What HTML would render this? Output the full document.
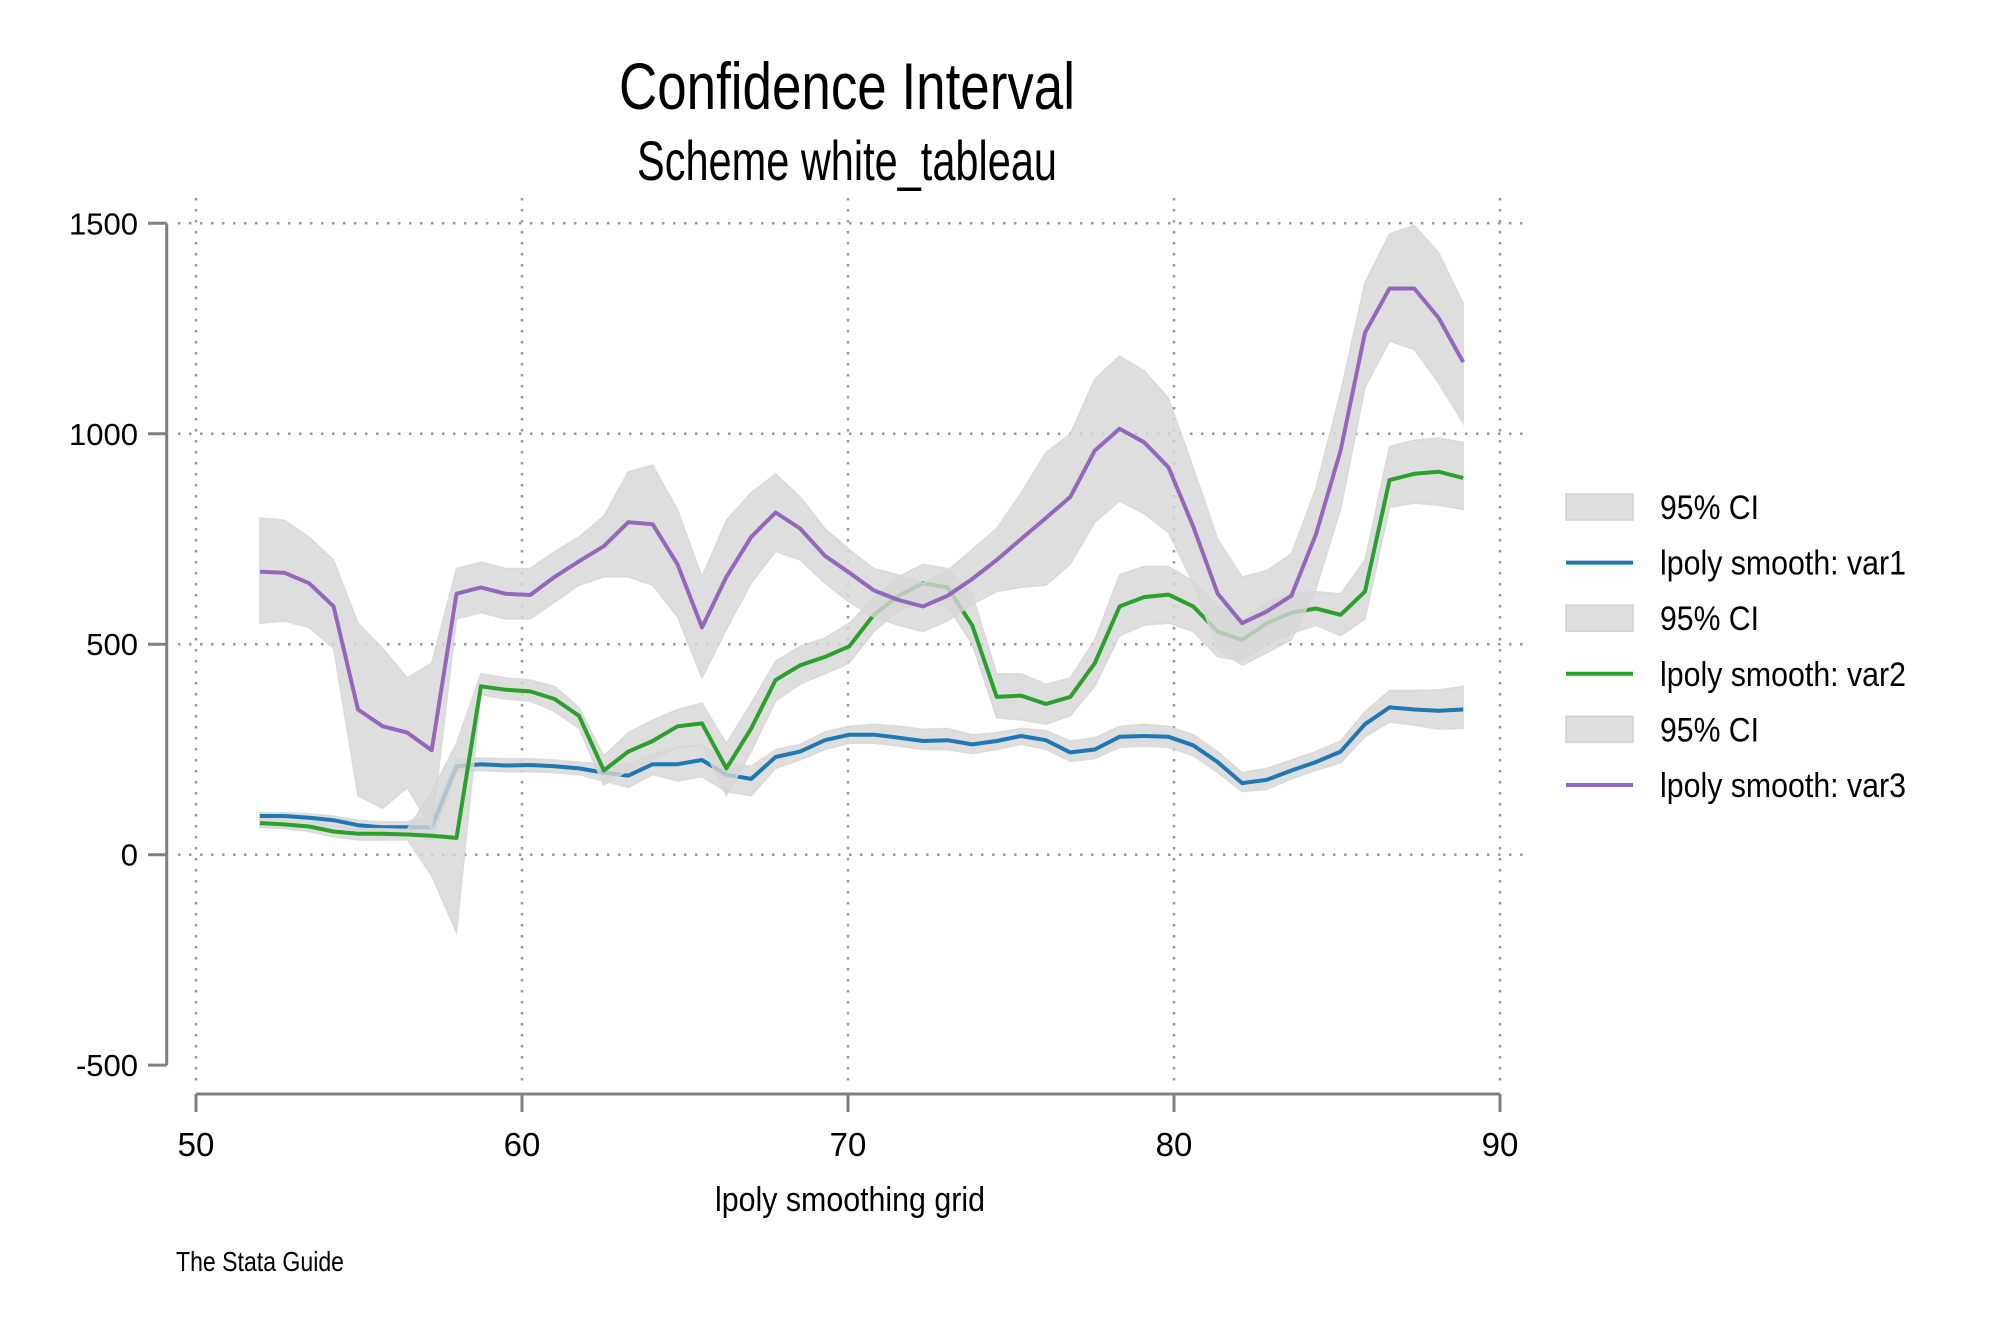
<!DOCTYPE html>
<html><head><meta charset="utf-8"><style>
html,body{margin:0;padding:0;background:#fff;}
svg{display:block;font-family:"Liberation Sans Narrow","Liberation Sans",sans-serif;}
</style></head><body>
<svg id="chart" width="2000" height="1333" viewBox="0 0 2000 1333" xmlns="http://www.w3.org/2000/svg">
<rect width="2000" height="1333" fill="#fff"/>
<text x="847" y="109" font-size="66" text-anchor="middle" textLength="456" lengthAdjust="spacingAndGlyphs">Confidence Interval</text>
<text x="847" y="180" font-size="56" text-anchor="middle" textLength="420" lengthAdjust="spacingAndGlyphs">Scheme white_tableau</text>
<g id="grid"></g>
<g id="bands"></g>
<g id="axes"></g>
<g id="legend"></g>
<text x="850" y="1211" font-size="34" text-anchor="middle" textLength="270" lengthAdjust="spacingAndGlyphs">lpoly smoothing grid</text>
<text x="176" y="1271" font-size="28" textLength="168" lengthAdjust="spacingAndGlyphs">The Stata Guide</text>
</svg>
<script>
const xGrid = [51.96,52.71,53.47,54.22,54.97,55.73,56.48,57.23,57.99,58.74,59.49,60.25,61.00,61.75,62.51,63.26,64.01,64.77,65.52,66.27,67.03,67.78,68.53,69.29,70.04,70.79,71.55,72.30,73.05,73.81,74.56,75.31,76.07,76.82,77.57,78.33,79.08,79.83,80.59,81.34,82.09,82.85,83.60,84.35,85.11,85.86,86.61,87.37,88.12,88.87];
const var1 = [92,92,88,82,70,65,65,65,210,215,212,213,210,205,195,188,215,215,225,190,180,232,245,272,285,285,278,270,272,262,270,282,272,243,250,280,282,280,260,220,170,178,200,220,245,310,350,345,342,345];
const var1Hi = [100,100,97,92,82,78,78,95,225,230,228,228,225,220,215,215,240,255,260,220,210,250,262,292,305,310,305,298,300,285,290,300,295,270,278,305,310,305,285,245,195,205,225,245,270,340,390,390,392,400];
const var1Lo = [84,84,80,70,55,40,50,35,195,200,197,197,195,190,175,160,190,175,185,150,140,205,225,250,265,265,258,250,250,240,250,262,250,222,228,255,258,255,235,195,150,155,180,200,218,280,315,308,298,300];
const var2 = [75,72,67,55,50,50,48,45,40,400,392,388,370,330,200,245,270,305,312,205,300,415,450,470,495,570,615,645,635,545,375,378,358,375,455,590,612,618,590,530,510,550,575,585,570,625,890,905,910,895];
const var2Hi = [85,82,78,68,62,62,60,150,265,430,420,415,400,350,235,290,320,345,360,265,360,460,495,515,550,610,660,690,680,620,430,430,405,420,510,665,685,685,650,590,560,600,620,625,620,700,970,985,990,980];
const var2Lo = [65,62,55,42,35,35,35,-50,-185,380,370,365,340,300,165,200,225,255,260,140,245,365,405,430,455,530,580,600,590,500,325,320,310,330,400,520,545,550,530,470,460,500,525,545,520,560,825,835,830,820];
const var3 = [672,670,645,590,345,305,290,248,620,635,620,617,660,697,733,790,785,690,540,660,755,813,775,710,670,628,605,590,615,655,700,750,800,850,960,1012,980,920,780,620,550,578,615,760,960,1240,1345,1345,1275,1170];
const var3Hi = [800,795,755,700,550,490,420,455,680,695,680,680,720,755,805,910,925,820,660,795,860,905,850,775,725,680,665,645,675,725,775,860,955,1000,1130,1185,1150,1085,920,750,660,675,715,870,1100,1360,1475,1495,1430,1310];
const var3Lo = [550,555,540,490,140,110,160,60,560,575,560,560,600,640,660,660,640,565,420,535,645,720,700,645,600,565,545,530,555,595,625,635,640,690,790,840,810,765,645,490,450,480,510,630,820,1110,1220,1200,1120,1025];
const yTicks = [-500,0,500,1000,1500];
const xTicks = [50,60,70,80,90];
const legendLabels = ["95% CI","lpoly smooth: var1","95% CI","lpoly smooth: var2","95% CI","lpoly smooth: var3"];

const NS="http://www.w3.org/2000/svg";
const sx = v => 196 + (v-50)*32.6;
const sy = v => 854.7 - v*0.42093;
function mk(tag, attrs, parent){const e=document.createElementNS(NS,tag);for(const k in attrs)e.setAttribute(k,attrs[k]);parent.appendChild(e);return e;}
const grid=document.getElementById('grid'), bands=document.getElementById('bands'), axes=document.getElementById('axes'), legend=document.getElementById('legend');

yTicks.forEach(t=>{ if(t<0) return;
  const l=mk('line',{x1:178,x2:1530,y1:sy(t),y2:sy(t),stroke:'#999','stroke-width':2.5,'stroke-dasharray':'2.5 8.5'},grid);
  
  
});
xTicks.forEach(t=>{
  const l=mk('line',{x1:sx(t),x2:sx(t),y1:198,y2:1085,stroke:'#999','stroke-width':2.5,'stroke-dasharray':'2.5 8.5'},grid);
  
  
});

const series=[[var1,var1Hi,var1Lo,'#1f77b4','var1'],[var2,var2Hi,var2Lo,'#2ca02c','var2'],[var3,var3Hi,var3Lo,'#9467bd','var3']];
series.forEach(([m,hi,lo,col,nm])=>{
  let d='M'+xGrid.map((x,i)=>sx(x).toFixed(1)+','+sy(hi[i]).toFixed(1)).join('L');
  d+='L'+xGrid.map((x,i)=>[sx(x).toFixed(1),sy(lo[i]).toFixed(1)]).reverse().map(p=>p.join(',')).join('L')+'Z';
  const b=mk('path',{d:d,fill:'#d6d6d6','fill-opacity':0.8,stroke:'#d6d6d6','stroke-opacity':0.8,'stroke-width':1.5},bands);
  
  
  const p=mk('polyline',{points:xGrid.map((x,i)=>sx(x).toFixed(1)+','+sy(m[i]).toFixed(1)).join(' '),fill:'none',stroke:col,'stroke-width':4,'stroke-linejoin':'round'},bands);
  
  
});

mk('line',{x1:166.7,x2:166.7,y1:sy(1500),y2:sy(-500),stroke:'#808080','stroke-width':3},axes);
yTicks.forEach(t=>{
  mk('line',{x1:148,x2:166.7,y1:sy(t),y2:sy(t),stroke:'#808080','stroke-width':3},axes);
  const tx=mk('text',{x:138,y:sy(t)+11,'font-size':31,'text-anchor':'end'},axes);
  tx.textContent=t;
  
  
});
mk('line',{x1:sx(50),x2:sx(90),y1:1094,y2:1094,stroke:'#808080','stroke-width':3},axes);
xTicks.forEach(t=>{
  mk('line',{x1:sx(t),x2:sx(t),y1:1094,y2:1112,stroke:'#808080','stroke-width':3},axes);
  const tx=mk('text',{x:sx(t),y:1156,'font-size':33,'text-anchor':'middle'},axes);
  tx.textContent=t;
  
  
});

const lcols=[null,'#1f77b4',null,'#2ca02c',null,'#9467bd'];
legendLabels.forEach((lab,i)=>{
  const y=507+i*55.6;
  if(lcols[i]===null){
    const r=mk('rect',{x:1566,y:y-13,width:67,height:26,fill:'#dedede',stroke:'#d0d0d0','stroke-width':1.5},legend);
    
    
  } else {
    const l=mk('line',{x1:1566,x2:1633,y1:y,y2:y,stroke:lcols[i],'stroke-width':4},legend);
    
    
  }
  const tx=mk('text',{x:1660,y:y+12,'font-size':34,textLength:(lcols[i]===null?99:246),lengthAdjust:'spacingAndGlyphs'},legend);
  tx.textContent=lab;
  
  
});
</script>
</body></html>
